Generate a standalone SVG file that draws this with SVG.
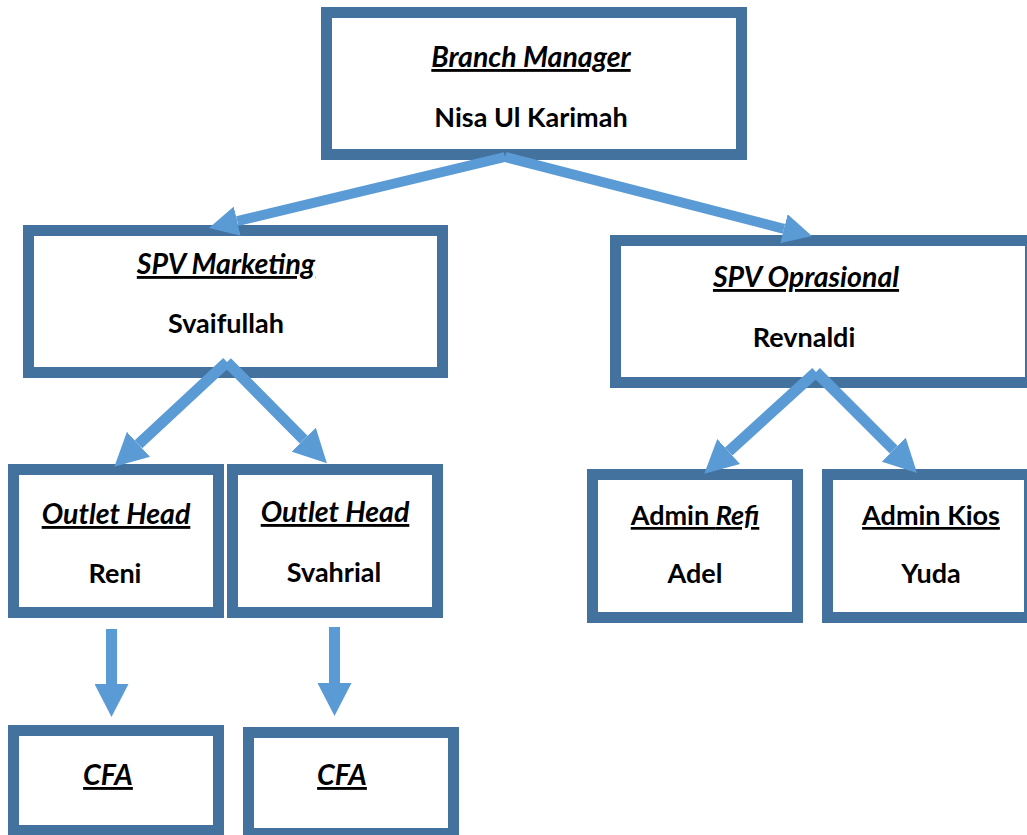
<svg xmlns="http://www.w3.org/2000/svg" width="1027" height="835" viewBox="0 0 1027 835">
<style>
.box{fill:#ffffff;stroke:#43729f;stroke-width:11}
.t{font-family:Lato,"Open Sans","Liberation Sans",sans-serif;font-weight:bold;font-size:27px;fill:#000;text-anchor:middle}
.ti{font-style:italic;text-decoration:underline;font-size:28.5px}
.tu{text-decoration:underline}
.c{stroke:#5b9bd5;fill:none}
.w11{stroke-width:11;marker-end:url(#hd)}
.w10{stroke-width:10;marker-end:url(#hs)}
</style>
<defs>
<marker id="hd" markerUnits="userSpaceOnUse" markerWidth="33" markerHeight="34" refX="0" refY="17" orient="auto"><path d="M0,0 L33,17 L0,34 Z" fill="#5b9bd5"/></marker>
<marker id="hs" markerUnits="userSpaceOnUse" markerWidth="29" markerHeight="30" refX="0" refY="15" orient="auto"><path d="M0,0 L29,15 L0,30 Z" fill="#5b9bd5"/></marker>
</defs>
<rect width="1027" height="835" fill="#ffffff"/>
<g id="branch-manager"><rect class="box" x="326.5" y="12.5" width="415" height="142"/><text class="t ti" x="531" y="67">Branch Manager</text><text class="t" x="531" y="127">Nisa Ul Karimah</text></g>
<g id="spv-marketing"><rect class="box" x="28.5" y="230.5" width="414" height="142"/><text class="t ti" x="226" y="274">SPV Marketing</text><text class="t" x="226" y="333">Svaifullah</text></g>
<g id="spv-oprasional"><rect class="box" x="615.5" y="240.5" width="415" height="142"/><text class="t ti" x="806" y="287">SPV Oprasional</text><text class="t" x="804" y="347">Revnaldi</text></g>
<g id="outlet-head-1"><rect class="box" x="13.5" y="469.5" width="205" height="143"/><text class="t ti" x="116" y="524">Outlet Head</text><text class="t" x="115" y="583">Reni</text></g>
<g id="outlet-head-2"><rect class="box" x="232.5" y="469.5" width="205" height="143"/><text class="t ti" x="335" y="522">Outlet Head</text><text class="t" x="334" y="582">Svahrial</text></g>
<g id="admin-refi"><rect class="box" x="592.5" y="474.5" width="205" height="143"/><text class="t tu" x="695" y="525">Admin <tspan font-style="italic">Refi</tspan></text><text class="t" x="695" y="583">Adel</text></g>
<g id="admin-kios"><rect class="box" x="827.5" y="474.5" width="202" height="143"/><text class="t tu" x="931" y="525">Admin Kios</text><text class="t" x="931" y="583">Yuda</text></g>
<g id="cfa-1"><rect class="box" x="13.5" y="730.5" width="205" height="100"/><text class="t ti" x="108" y="785">CFA</text></g>
<g id="cfa-2"><rect class="box" x="248.5" y="732.5" width="205" height="101"/><text class="t ti" x="342" y="785">CFA</text></g>
<g id="connectors">
<line class="c w10" x1="505" y1="157" x2="237.2" y2="221.2"/>
<line class="c w10" x1="505" y1="157" x2="783.9" y2="228.8"/>
<line class="c w11" x1="227" y1="362" x2="138.5" y2="444.3"/>
<line class="c w11" x1="227" y1="362" x2="303.7" y2="439.7"/>
<line class="c w11" x1="816" y1="372" x2="728.7" y2="451.5"/>
<line class="c w11" x1="816" y1="372" x2="893.7" y2="449.7"/>
<line class="c w11" x1="111.5" y1="629" x2="111.5" y2="684"/>
<line class="c w11" x1="334.5" y1="627" x2="334.5" y2="683"/>
</g>
</svg>
